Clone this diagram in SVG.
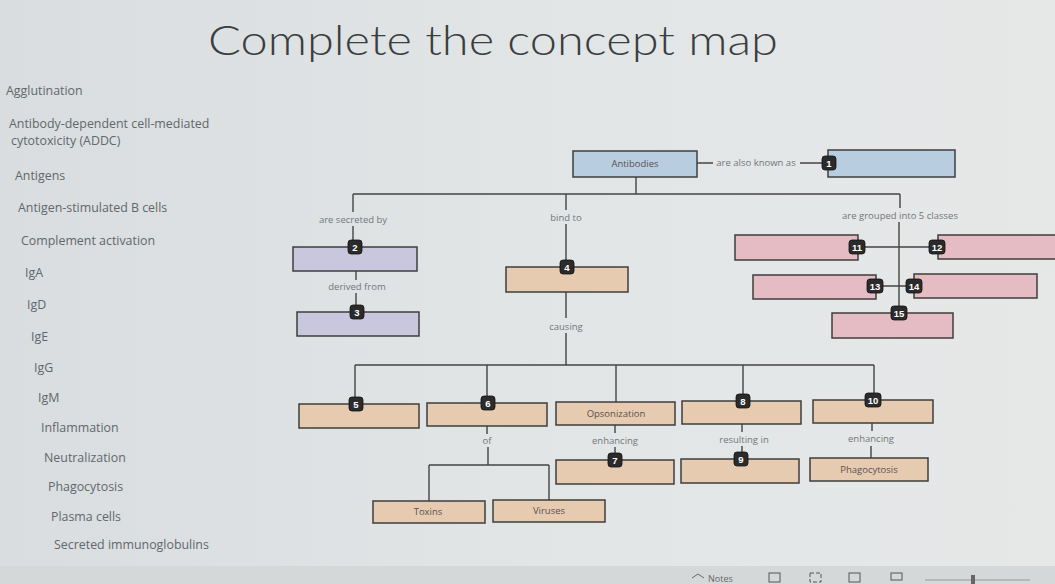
<svg xmlns="http://www.w3.org/2000/svg" width="1055" height="584" viewBox="0 0 1055 584">
<defs>
<linearGradient id="bg" x1="0" y1="0" x2="1" y2="0">
<stop offset="0" stop-color="#d9dddf"/>
<stop offset="0.5" stop-color="#e2e5e6"/>
<stop offset="1" stop-color="#e6e8e8"/>
</linearGradient>
</defs>
<style>
.t{font-family:"Open Sans","Noto Sans","Liberation Sans",sans-serif;}
.list{font-size:12.4px;fill:#62676b;}
.lbl{font-size:9.5px;fill:#72767a;text-anchor:middle;}
.bt{font-size:9.5px;fill:#5a5050;text-anchor:middle;}
.box{stroke:#3e3e3e;stroke-width:1.5;}
.blue{fill:#b9cde0;}
.purple{fill:#c9c7dd;}
.tan{fill:#e7cbb0;}
.pink{fill:#e6bcc4;}
.ln{stroke:#444;stroke-width:1.4;fill:none;}
.bd{fill:#2b2b2b;stroke:#111;stroke-width:0.8;}
.bn{font-family:"Liberation Sans",Arial,sans-serif;font-size:9.5px;font-weight:bold;fill:#fff;text-anchor:middle;}
</style>
<rect x="0" y="0" width="1055" height="584" fill="url(#bg)"/>
<rect x="0" y="566" width="1055" height="18" fill="#d5d8d9"/>
<text x="208" y="55" font-family="Lato,'Open Sans','Liberation Sans',sans-serif" font-weight="300" font-size="42" fill="#3a3e41" textLength="570" lengthAdjust="spacingAndGlyphs">Complete the concept map</text>

<g id="list" class="t list">
<text x="6" y="95">Agglutination</text>
<text x="9" y="128">Antibody-dependent cell-mediated</text>
<text x="11" y="145">cytotoxicity (ADDC)</text>
<text x="15" y="180">Antigens</text>
<text x="18" y="212">Antigen-stimulated B cells</text>
<text x="21" y="245">Complement activation</text>
<text x="25" y="277">IgA</text>
<text x="27" y="309">IgD</text>
<text x="31" y="341">IgE</text>
<text x="34" y="372">IgG</text>
<text x="38" y="402">IgM</text>
<text x="41" y="432">Inflammation</text>
<text x="44" y="462">Neutralization</text>
<text x="48" y="491">Phagocytosis</text>
<text x="51" y="521">Plasma cells</text>
<text x="54" y="549">Secreted immunoglobulins</text>
</g>

<g id="connectors">
<path class="ln" d="M697 163 H713 M800 163 H828"/>
<path class="ln" d="M636 177 V194 M353 194 H900 M353 194 V212 M353 226 V247"/>
<path class="ln" d="M566 194 V210 M566 224 V267"/>
<path class="ln" d="M900 194 V208 M899 222 V313"/>
<path class="ln" d="M858 247 H938 M876 286 H914"/>
<path class="ln" d="M356 271 V280 M356 293 V312"/>
<path class="ln" d="M566 292 V318 M566 333 V365 M355 365 H874"/>
<path class="ln" d="M355 365 V404 M487 365 V403 M616 365 V402 M743 365 V401 M874 365 V400"/>
<path class="ln" d="M487 426 V434 M488 447 V465 M429 465 H549 M429 465 V501 M549 465 V500"/>
<path class="ln" d="M615 425 V433 M615 447 V460"/>
<path class="ln" d="M742 424 V432 M742 446 V459"/>
<path class="ln" d="M872 423 V431 M871 446 V458"/>
</g>

<g class="t">
<text class="lbl" x="756" y="166">are also known as</text>
<text class="lbl" x="353" y="223">are secreted by</text>
<text class="lbl" x="566" y="221">bind to</text>
<text class="lbl" x="900" y="219">are grouped into 5 classes</text>
<text class="lbl" x="357" y="290">derived from</text>
<text class="lbl" x="566" y="330">causing</text>
<text class="lbl" x="487" y="444">of</text>
<text class="lbl" x="615" y="444">enhancing</text>
<text class="lbl" x="744" y="443">resulting in</text>
<text class="lbl" x="871" y="442">enhancing</text>
</g>

<g id="n-antibodies"><rect class="box blue" x="573" y="151" width="124" height="26"/><text class="t bt" x="635" y="167">Antibodies</text></g>
<g id="n1"><rect class="box blue" x="828" y="150" width="127" height="27"/><rect class="bd" x="822" y="156" width="14" height="14" rx="3"/><text class="bn" x="829" y="166.5">1</text></g>
<g id="n2"><rect class="box purple" x="293" y="247" width="124" height="24"/><rect class="bd" x="348" y="240" width="14" height="14" rx="3"/><text class="bn" x="355" y="250.5">2</text></g>
<g id="n3"><rect class="box purple" x="297" y="312" width="122" height="24"/><rect class="bd" x="350" y="305" width="14" height="14" rx="3"/><text class="bn" x="357" y="315.5">3</text></g>
<g id="n4"><rect class="box tan" x="506" y="267" width="122" height="25"/><rect class="bd" x="560" y="260" width="14" height="14" rx="3"/><text class="bn" x="567" y="270.5">4</text></g>
<g id="n11"><rect class="box pink" x="735" y="235" width="123" height="25"/><rect class="bd" x="849" y="240" width="16" height="14" rx="3"/><text class="bn" x="857" y="250.5">11</text></g>
<g id="n12"><rect class="box pink" x="938" y="235" width="120" height="24"/><rect class="bd" x="929" y="240" width="16" height="14" rx="3"/><text class="bn" x="937" y="250.5">12</text></g>
<g id="n13"><rect class="box pink" x="753" y="275" width="123" height="24"/><rect class="bd" x="867" y="279" width="16" height="14" rx="3"/><text class="bn" x="875" y="289.5">13</text></g>
<g id="n14"><rect class="box pink" x="914" y="274" width="123" height="24"/><rect class="bd" x="906" y="279" width="16" height="14" rx="3"/><text class="bn" x="914" y="289.5">14</text></g>
<g id="n15"><rect class="box pink" x="832" y="313" width="121" height="25"/><rect class="bd" x="891" y="306" width="16" height="14" rx="3"/><text class="bn" x="899" y="316.5">15</text></g>
<g id="n5"><rect class="box tan" x="299" y="404" width="120" height="24"/><rect class="bd" x="349" y="397" width="14" height="14" rx="3"/><text class="bn" x="356" y="407.5">5</text></g>
<g id="n6"><rect class="box tan" x="427" y="403" width="120" height="23"/><rect class="bd" x="481" y="396" width="14" height="14" rx="3"/><text class="bn" x="488" y="406.5">6</text></g>
<g id="n-opsonization"><rect class="box tan" x="556" y="402" width="119" height="23"/><text class="t bt" x="616" y="417">Opsonization</text></g>
<g id="n8"><rect class="box tan" x="682" y="401" width="119" height="23"/><rect class="bd" x="736" y="394" width="14" height="14" rx="3"/><text class="bn" x="743" y="404.5">8</text></g>
<g id="n10"><rect class="box tan" x="813" y="400" width="120" height="23"/><rect class="bd" x="865" y="393" width="16" height="14" rx="3"/><text class="bn" x="873" y="403.5">10</text></g>
<g id="n7"><rect class="box tan" x="556" y="460" width="118" height="24"/><rect class="bd" x="608" y="453" width="14" height="14" rx="3"/><text class="bn" x="615" y="463.5">7</text></g>
<g id="n9"><rect class="box tan" x="681" y="459" width="118" height="24"/><rect class="bd" x="734" y="452" width="14" height="14" rx="3"/><text class="bn" x="741" y="462.5">9</text></g>
<g id="n-phagocytosis"><rect class="box tan" x="810" y="458" width="118" height="23"/><text class="t bt" x="869" y="473" font-size="8.5">Phagocytosis</text></g>
<g id="n-toxins"><rect class="box tan" x="373" y="501" width="112" height="22"/><text class="t bt" x="428" y="515" font-size="8.5">Toxins</text></g>
<g id="n-viruses"><rect class="box tan" x="493" y="500" width="112" height="22"/><text class="t bt" x="549" y="514" font-size="8.5">Viruses</text></g>

<g id="statusbar">
<text class="t" x="708" y="582" font-size="9" fill="#666">Notes</text>
<path d="M692 578 L698 574 L704 578" stroke="#666" fill="none"/>
<rect x="769" y="573" width="11" height="9" fill="none" stroke="#555"/>
<rect x="810" y="573" width="11" height="9" fill="none" stroke="#555" stroke-dasharray="4 2"/>
<rect x="849" y="573" width="11" height="9" fill="none" stroke="#555"/>
<rect x="891" y="573" width="11" height="7" fill="none" stroke="#555"/>
<path d="M925 580 H1030" stroke="#999"/>
<rect x="971" y="575" width="4" height="9" fill="#666"/>
</g>
</svg>
